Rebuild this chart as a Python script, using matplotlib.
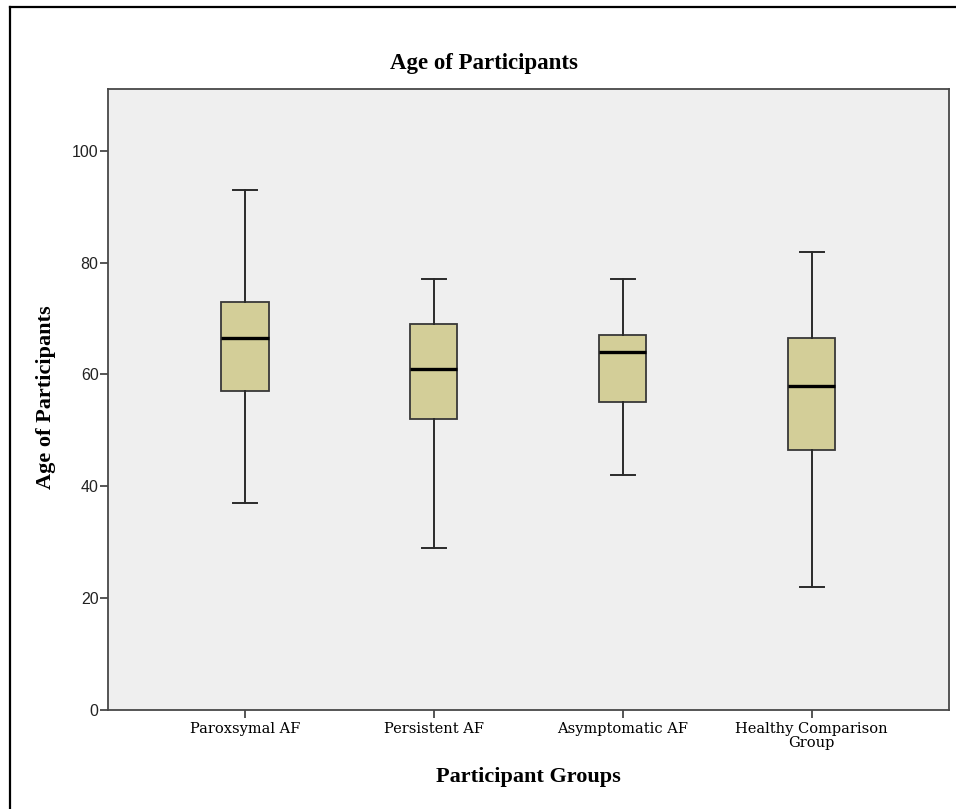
import matplotlib
matplotlib.use("Agg")
import matplotlib.pyplot as plt
from matplotlib.lines import Line2D

# group names as printed on the chart (spelling kept from the original)
groups = ["Paroxsymal AF", "Persistent AF", "Asymptomatic AF", "Healthy Comparison\nGroup"]

# box plot summaries
whisker_low = [37, 29, 42, 22]
q1 = [57, 52, 55, 46.5]
median = [66.5, 61, 64, 58]
q3 = [73, 69, 67, 66.5]
whisker_high = [93, 77, 77, 82]

yticks = [0, 20, 40, 60, 80, 100]

box_fill = "#d3ce98"
edge = "#383838"

fig = plt.figure(figsize=(9.56, 8.09), dpi=100)
ax = fig.add_axes([0.1125, 0.1227, 0.8802, 0.7667])
ax.set_facecolor("#efefef")

stats = []
for i in range(len(groups)):
    stats.append({
        "label": groups[i],
        "whislo": whisker_low[i],
        "q1": q1[i],
        "med": median[i],
        "q3": q3[i],
        "whishi": whisker_high[i],
        "fliers": [],
    })

positions = list(range(1, len(groups) + 1))
ax.bxp(stats, positions=positions, widths=0.25, patch_artist=True,
       showfliers=False,
       boxprops=dict(facecolor=box_fill, edgecolor=edge, linewidth=1.3),
       medianprops=dict(color="black", linewidth=2.4, solid_capstyle="butt"),
       whiskerprops=dict(color="#2a2a2a", linewidth=1.4),
       capprops=dict(color="#2a2a2a", linewidth=1.4),
       capwidths=0.127)

ax.set_xlim(0.2725, 4.7275)
ax.set_ylim(0, 111)
ax.set_yticks(yticks)

for s in ax.spines.values():
    s.set_color("#484848")
    s.set_linewidth(1.3)

ax.tick_params(axis="y", length=5.5, width=1.3, color="#484848", pad=1,
               labelsize=11.5, labelcolor="#222222")
ax.tick_params(axis="x", length=6, width=1.3, color="#484848", pad=3,
               labelsize=10.5)
for lab in ax.get_yticklabels():
    lab.set_fontfamily("Liberation Sans")
for lab in ax.get_xticklabels():
    lab.set_fontfamily("DejaVu Serif")
    lab.set_linespacing(0.95)

ax.set_xlabel("Participant Groups", fontfamily="Liberation Serif",
              fontweight="bold", fontsize=16, va="center")
ax.xaxis.set_label_coords(0.5, -0.1085)
ax.set_ylabel("Age of Participants", fontfamily="Liberation Serif",
              fontweight="bold", fontsize=16, va="center")
ax.yaxis.set_label_coords(-0.073, 0.504)

fig.text(0.506, 0.922, "Age of Participants", fontfamily="Liberation Serif",
         fontweight="bold", fontsize=16.5, ha="center", va="center")

# outer frame (left and top edges only, as in the source image)
fig.add_artist(Line2D([9.5 / 956, 9.5 / 956], [0, 1 - 6.5 / 809],
                      transform=fig.transFigure, color="black", linewidth=1.6))
fig.add_artist(Line2D([9.5 / 956, 1], [1 - 6.5 / 809, 1 - 6.5 / 809],
                      transform=fig.transFigure, color="black", linewidth=1.6))

fig.savefig("out.png", dpi=100)
